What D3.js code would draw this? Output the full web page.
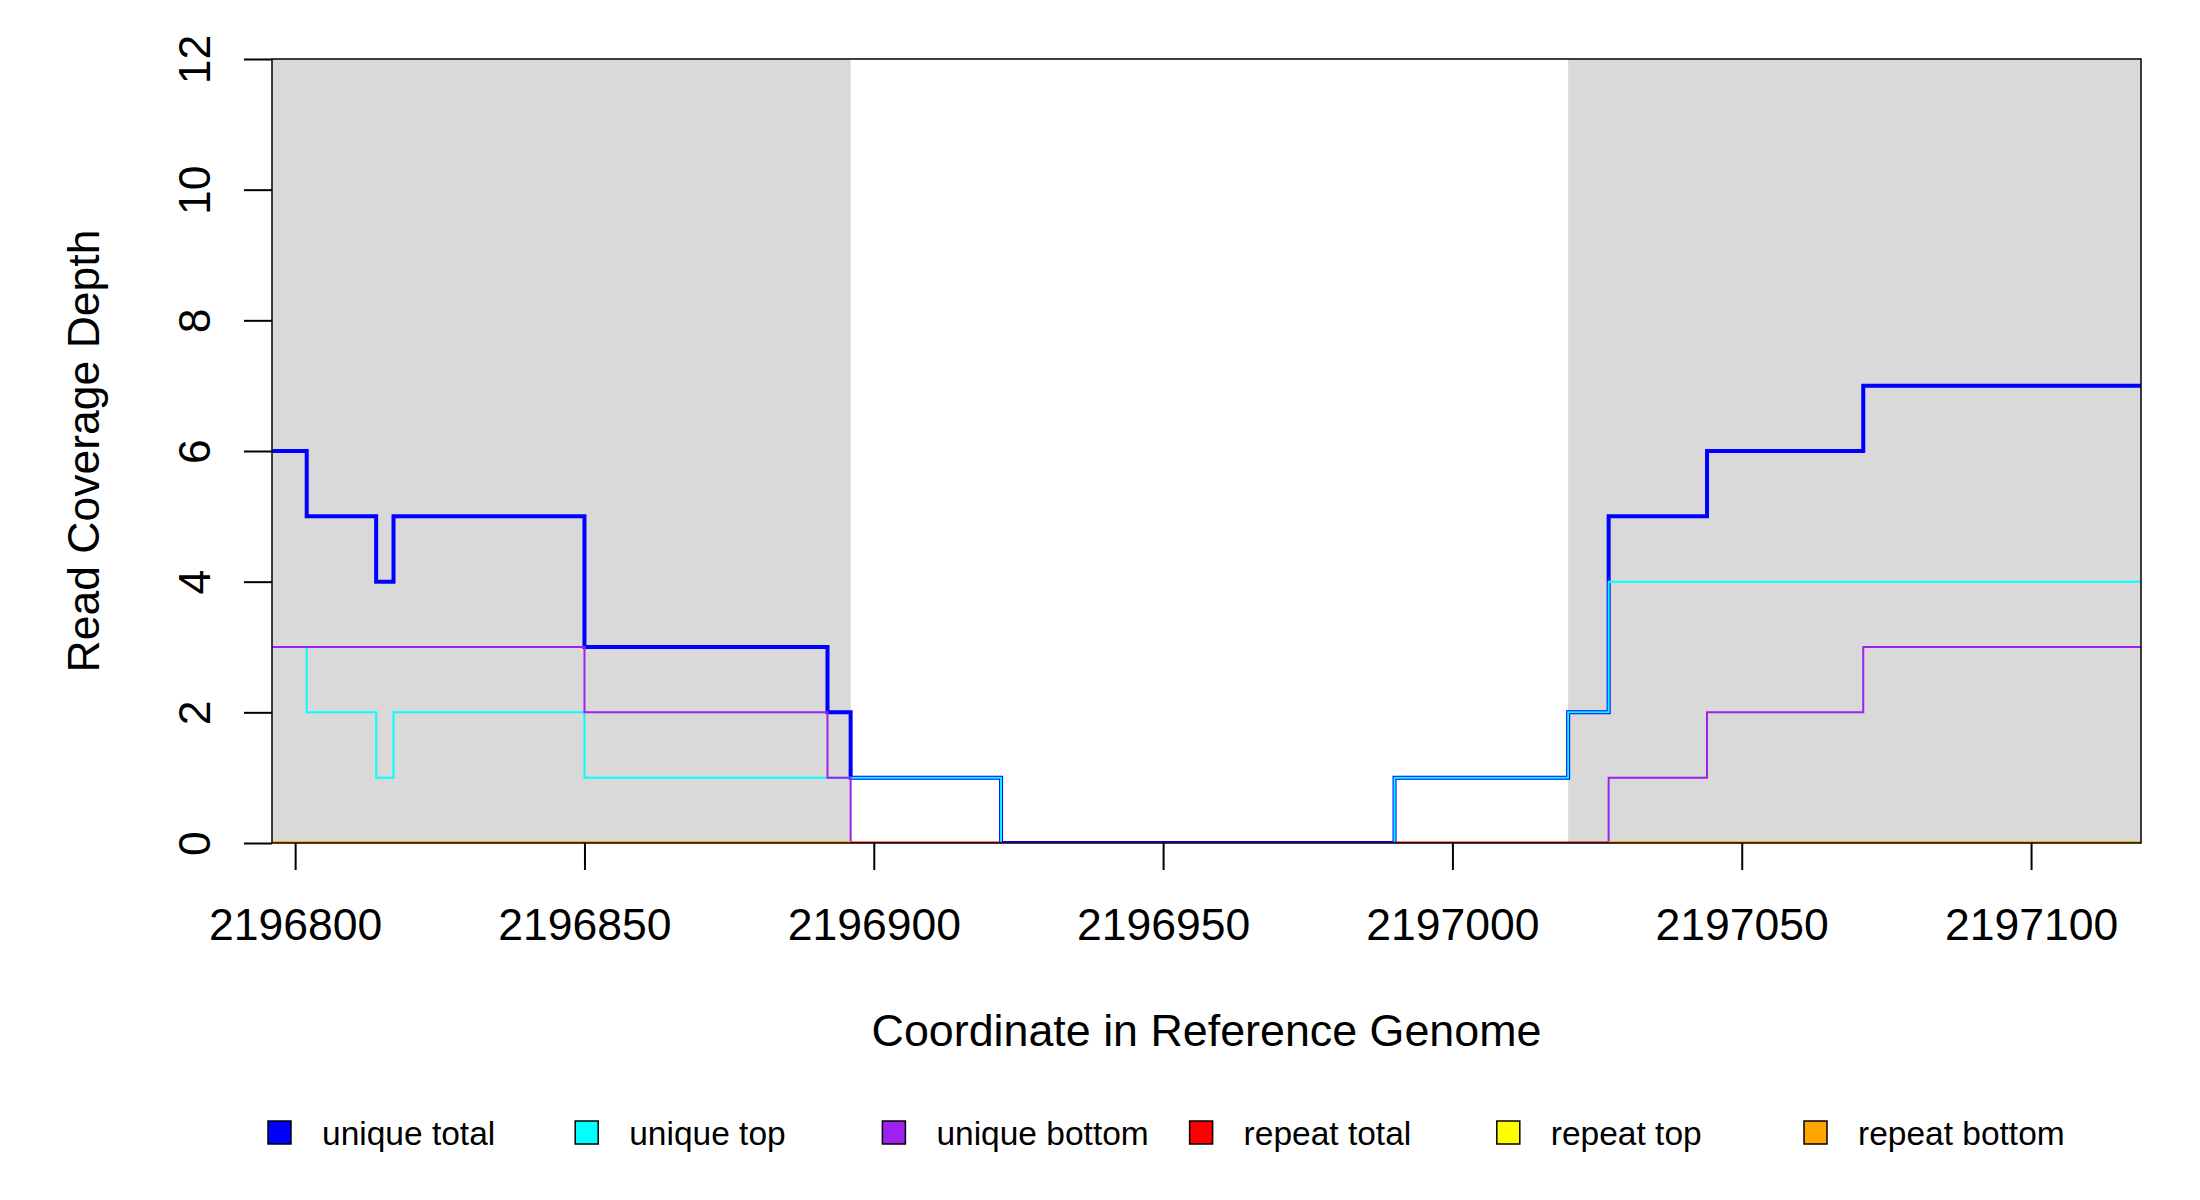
<!DOCTYPE html>
<html>
<head>
<meta charset="utf-8">
<script src="https://cdn.jsdelivr.net/npm/d3@7"></script>
<style>
  body { margin: 0; background: #fff; }
  text { font-family: "Liberation Sans", Arial, sans-serif; fill: #000; }
</style>
</head>
<body>
<div id="chart"></div>
<script>
// Coverage step data (x = start of each step)
var uniqueTotalX = [2196796, 2196802, 2196814, 2196817, 2196850, 2196892, 2196896, 2196922, 2196990, 2197020, 2197027, 2197044, 2197071, 2197119];
var uniqueTotalY = [6, 5, 4, 5, 3, 2, 1, 0, 1, 2, 5, 6, 7, 7];

var uniqueTopX = [2196796, 2196802, 2196814, 2196817, 2196850, 2196922, 2196990, 2197020, 2197027, 2197119];
var uniqueTopY = [3, 2, 1, 2, 1, 0, 1, 2, 4, 4];

var uniqueBottomX = [2196796, 2196850, 2196892, 2196896, 2197027, 2197044, 2197071, 2197119];
var uniqueBottomY = [3, 2, 1, 0, 1, 2, 3, 3];

// repeat reads: flat zero, only drawn over these spans
var repeatTotalSpans = [[2196796, 2196922], [2196990, 2197119]];
var repeatTopSpans = [[2196796, 2196896], [2197027, 2197119]];
var repeatBottomSpans = [[2196796, 2196896], [2197027, 2197119]];

// shaded (grey) regions
var shadedRegions = [[2196796, 2196896], [2197020, 2197119]];

var xDomain = [2196796, 2197119];
var yDomain = [0, 12];
var xTicks = [2196800, 2196850, 2196900, 2196950, 2197000, 2197050, 2197100];
var yTicks = [0, 2, 4, 6, 8, 10, 12];

var legendNames = ['unique total', 'unique top', 'unique bottom', 'repeat total', 'repeat top', 'repeat bottom'];
var legendColors = ['#0000ff', '#00ffff', '#a020f0', '#ff0000', '#ffff00', '#ffa500'];

var svgWidth = 2200;
var svgHeight = 1200;

var plot = { left: 272, right: 2141, top: 59, bottom: 843 };

var svg = d3.select('#chart')
  .append('svg')
  .attr('width', svgWidth)
  .attr('height', svgHeight);

var xScale = d3.scaleLinear().domain(xDomain).range([plot.left, plot.right]);
var yScale = d3.scaleLinear().domain(yDomain).range([plot.bottom, plot.top]);

svg.append('clipPath')
  .attr('id', 'plotclip')
  .append('rect')
  .attr('x', plot.left)
  .attr('y', plot.top)
  .attr('width', plot.right - plot.left)
  .attr('height', plot.bottom - plot.top);

var plotArea = svg.append('g').attr('clip-path', 'url(#plotclip)');

// grey regions
plotArea.selectAll('.shade')
  .data(shadedRegions)
  .enter()
  .append('rect')
  .attr('class', 'shade')
  .attr('x', d => xScale(d[0]))
  .attr('width', d => xScale(d[1]) - xScale(d[0]))
  .attr('y', yScale(yDomain[1]))
  .attr('height', yScale(yDomain[0]) - yScale(yDomain[1]))
  .attr('fill', '#d9d9d9');

var stepLine = d3.line()
  .x(d => xScale(d[0]))
  .y(d => yScale(d[1]))
  .curve(d3.curveStepAfter);

function zipSteps(xs, ys) {
  return xs.map((x, i) => [x, ys[i]]);
}

// unique series
var uniqueSeries = [
  { pts: zipSteps(uniqueTotalX, uniqueTotalY), color: legendColors[0], width: 4 },
  { pts: zipSteps(uniqueTopX, uniqueTopY), color: legendColors[1], width: 2 },
  { pts: zipSteps(uniqueBottomX, uniqueBottomY), color: legendColors[2], width: 2 }
];

uniqueSeries.forEach(s => {
  plotArea.append('path')
    .attr('d', stepLine(s.pts))
    .attr('fill', 'none')
    .attr('stroke', s.color)
    .attr('stroke-width', s.width)
    .attr('stroke-linejoin', 'miter');
});

// repeat series (zero everywhere they are drawn)
var repeatSeries = [
  { spans: repeatTotalSpans, color: legendColors[3] },
  { spans: repeatTopSpans, color: legendColors[4] },
  { spans: repeatBottomSpans, color: legendColors[5] }
];

repeatSeries.forEach(s => {
  s.spans.forEach(sp => {
    plotArea.append('path')
      .attr('d', stepLine([[sp[0], 0], [sp[1], 0]]))
      .attr('fill', 'none')
      .attr('stroke', s.color)
      .attr('stroke-width', 3);
  });
});

// box round the plot
svg.append('rect')
  .attr('x', plot.left)
  .attr('y', plot.top)
  .attr('width', plot.right - plot.left)
  .attr('height', plot.bottom - plot.top)
  .attr('fill', 'none')
  .attr('stroke', '#000')
  .attr('stroke-width', 1.5);

// axes
var bottomAxis = d3.axisBottom(xScale)
  .tickValues(xTicks)
  .tickSize(27)
  .tickPadding(38)
  .tickFormat(d3.format('d'));

var xAxis = svg.append('g')
  .attr('transform', `translate(0, ${plot.bottom})`)
  .call(bottomAxis);

xAxis.select('.domain').remove();
xAxis.selectAll('line').attr('stroke', '#000').attr('stroke-width', 2);
xAxis.selectAll('text')
  .attr('font-size', 44.5)
  .attr('font-family', '"Liberation Sans", Arial, sans-serif')
  .attr('dy', '0.71em');

var leftAxis = d3.axisLeft(yScale)
  .tickValues(yTicks)
  .tickSize(28)
  .tickFormat(d3.format('d'));

var yAxis = svg.append('g')
  .attr('transform', `translate(${plot.left}, 0)`)
  .call(leftAxis);

yAxis.select('.domain').remove();
yAxis.selectAll('line').attr('stroke', '#000').attr('stroke-width', 2);
yAxis.selectAll('text')
  .attr('font-size', 44.5)
  .attr('font-family', '"Liberation Sans", Arial, sans-serif')
  .attr('x', null)
  .attr('dy', null)
  .attr('text-anchor', 'middle')
  .attr('transform', 'translate(-62, 0) rotate(-90)');

// axis titles
svg.append('text')
  .attr('x', (plot.left + plot.right) / 2)
  .attr('y', 1046)
  .attr('text-anchor', 'middle')
  .attr('font-size', 44.8)
  .text('Coordinate in Reference Genome');

svg.append('text')
  .attr('transform', `translate(99, ${(plot.top + plot.bottom) / 2}) rotate(-90)`)
  .attr('text-anchor', 'middle')
  .attr('font-size', 44.5)
  .text('Read Coverage Depth');

// legend along the bottom
var legend = svg.append('g').attr('transform', 'translate(268, 1121)');

var legendItems = legend.selectAll('.leg')
  .data(legendNames)
  .enter()
  .append('g')
  .attr('class', 'leg')
  .attr('transform', (d, i) => `translate(${i * 307.2}, 0)`);

legendItems.append('rect')
  .attr('x', 0)
  .attr('y', 0)
  .attr('width', 23)
  .attr('height', 23)
  .attr('fill', (d, i) => legendColors[i])
  .attr('stroke', '#000')
  .attr('stroke-width', 1.5);

legendItems.append('text')
  .attr('x', 54)
  .attr('y', 24)
  .attr('font-size', 33.5)
  .text(d => d);
</script>
</body>
</html>
